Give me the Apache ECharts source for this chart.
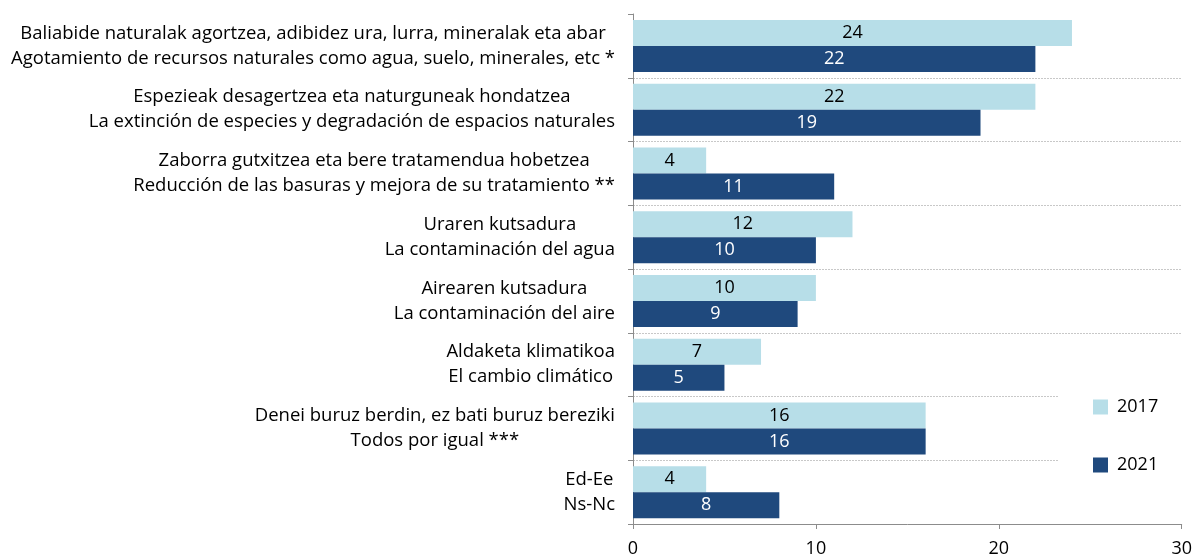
<!DOCTYPE html>
<html>
<head>
<meta charset="utf-8">
<script src="https://cdn.jsdelivr.net/npm/echarts@6/dist/echarts.min.js"></script>
<style>
  html, body { margin: 0; padding: 0; background: #fff; }
  #eChart { width: 1195px; height: 559px; }
</style>
</head>
<body>
<div id="eChart"></div>
<script>
// categorias (euskara / castellano)
var categories = [
  ['Baliabide naturalak agortzea, adibidez ura, lurra, mineralak eta abar', 'Agotamiento de recursos naturales como agua, suelo, minerales, etc *'],
  ['Espezieak desagertzea eta naturguneak hondatzea', 'La extinción de especies y degradación de espacios naturales'],
  ['Zaborra gutxitzea eta bere tratamendua hobetzea', 'Reducción de las basuras y mejora de su tratamiento **'],
  ['Uraren kutsadura', 'La contaminación del agua'],
  ['Airearen kutsadura', 'La contaminación del aire'],
  ['Aldaketa klimatikoa', 'El cambio climático'],
  ['Denei buruz berdin, ez bati buruz bereziki', 'Todos por igual ***'],
  ['Ed-Ee', 'Ns-Nc']
];
var values2017 = [24, 22, 4, 12, 10, 7, 16, 4];
var values2021 = [22, 19, 11, 10, 9, 5, 16, 8];
var xTicks = [0, 10, 20, 30];

var font = 'Open Sans';
var chart = echarts.init(document.getElementById('eChart'));

var option = {
  animation: false,
  textStyle: { fontFamily: font },
  grid: { left: 633, right: 13, top: 14, bottom: 35 },
  legend: {
    orient: 'vertical',
    left: 1058,
    top: 385,
    padding: [13, 60, 13, 35],
    backgroundColor: '#fff',
    itemWidth: 15,
    itemHeight: 15,
    itemGap: 40,
    icon: 'rect',
    textStyle: { fontSize: 18, color: '#000', fontFamily: font, padding: [0, 0, 0, 4] },
    data: ['2017', '2021']
  },
  xAxis: {
    type: 'value',
    min: xTicks[0],
    max: xTicks[xTicks.length - 1],
    interval: 10,
    axisLine: { show: true, lineStyle: { color: '#8c8c8c' } },
    axisTick: { show: true, length: 5, lineStyle: { color: '#8c8c8c' } },
    splitLine: { show: false },
    axisLabel: { fontSize: 18, color: '#000', margin: 16, fontFamily: font }
  },
  yAxis: {
    type: 'category',
    inverse: true,
    data: categories.map(function (c) { return c.join('\n'); }),
    axisLine: { show: true, lineStyle: { color: '#8c8c8c' } },
    axisTick: { show: true, length: 5, lineStyle: { color: '#8c8c8c' } },
    splitLine: {
      show: true,
      showMinLine: false,
      showMaxLine: false,
      lineStyle: { color: '#c8c8c8', type: [2, 1], width: 1 }
    },
    axisLabel: {
      margin: 18,
      fontSize: 18.5,
      color: '#000',
      fontFamily: font,
      formatter: function (v) {
        return v.split('\n').map(function (s) { return '{c|' + s + '}'; }).join('\n');
      },
      rich: {
        c: { align: 'center', fontSize: 18.5, lineHeight: 25, color: '#000', fontFamily: font }
      }
    }
  },
  series: [
    {
      name: '2017',
      type: 'bar',
      data: values2017,
      barWidth: 26,
      barGap: '0%',
      itemStyle: { color: '#b7dee8' },
      label: { show: true, position: 'inside', fontSize: 18, color: '#000', fontFamily: font }
    },
    {
      name: '2021',
      type: 'bar',
      data: values2021,
      barWidth: 26,
      itemStyle: { color: '#1f497d' },
      label: { show: true, position: 'inside', fontSize: 18, color: '#fff', fontFamily: font }
    }
  ]
};
chart.setOption(option);
</script>
</body>
</html>
